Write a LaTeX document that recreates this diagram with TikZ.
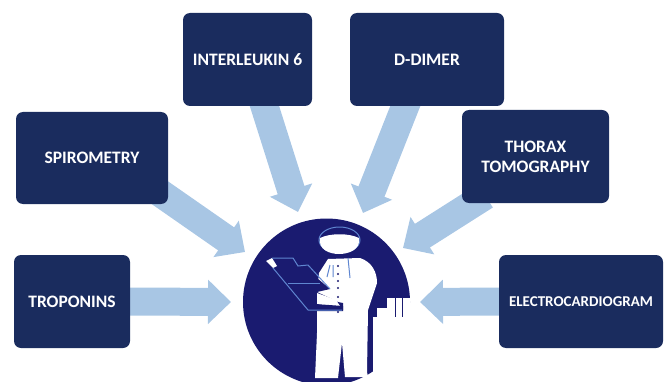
\documentclass[tikz,border=0pt]{standalone}
\usepackage{fontspec}
\setmainfont{Carlito}
\usepackage{xcolor}
\usetikzlibrary{arrows.meta, backgrounds, calc}
\definecolor{boxnavy}{HTML}{1A2C5E}
\definecolor{docnavy}{HTML}{1A1B70}
\definecolor{flowblue}{HTML}{A8C6E4}
\definecolor{lineblue}{HTML}{5F86D0}
\tikzset{testbox/.style={draw=none, fill=boxnavy, rounded corners=7pt, text=white, align=center,
  font=\fontsize{17.5}{20}\selectfont\bfseries, inner sep=0pt},
  flowarrow/.style={draw=flowblue, line width=28pt, shorten <=-14pt,
  -{Triangle[length=23pt, width=43pt]}},
  docline/.style={lineblue, line width=1pt}}

\begin{document}
\begin{tikzpicture}[x=1pt, y=-1pt]
\useasboundingbox (0,0) rectangle (668,382);
\node[testbox, minimum width=129pt, minimum height=93pt] (interleukin) at (247.5,59.5) {INTERLEUKIN 6};
\node[testbox, minimum width=154pt, minimum height=93pt] (ddimer) at (427,59.5) {D-DIMER};
\node[testbox, minimum width=152pt, minimum height=92pt] (spirometry) at (92,158) {SPIROMETRY};
\node[testbox, minimum width=147pt, minimum height=93pt] (thorax) at (535.5,156.5) {THORAX\\TOMOGRAPHY};
\node[testbox, minimum width=116pt, minimum height=93pt] (troponins) at (72,301.5) {TROPONINS};
\node[testbox, minimum width=164pt, minimum height=93pt, font=\fontsize{15}{18}\selectfont\bfseries] (electro) at (581,301.5) {ELECTROCARDIOGRAM};
\node[circle, fill=docnavy, minimum size=167pt, inner sep=0pt] (doctor) at (326.5,302) {};
\coordinate (tipinterleukin) at (298,212);
\coordinate (tipddimer) at (363,213);
\coordinate (tipspirometry) at (245,252);
\coordinate (tipthorax) at (403,248);
\coordinate (tiptroponins) at (231,302);
\coordinate (tipelectro) at (420,302);
\begin{pgfonlayer}{background}
\draw[flowarrow] (interleukin.-70.5) -- (tipinterleukin);
\draw[flowarrow] (ddimer.-115.3) -- (tipddimer);
\draw[flowarrow] (spirometry.-28.8) -- (tipspirometry);
\draw[flowarrow] (thorax.-143.4) -- (tipthorax);
\draw[flowarrow] (troponins.east) -- (tiptroponins);
\draw[flowarrow] (electro.west) -- (tipelectro);
\end{pgfonlayer}
\fill[white] (373,317) -- (373,372) -- (366,378) -- (366,390) -- (420,390) -- (420,317) -- cycle;
\fill[white] (377,317) rectangle (387,308) (387,317) rectangle (410,298);
\draw[docnavy, line width=0.8pt] (395,298) -- (395,317) (402,298) -- (402,317);
\fill[white] (328,259) -- (360,258) .. controls (372,262) and (377,272) .. (377,283)
  -- (368,310) -- (367,372) -- (368,377) -- (345,377) -- (342,343) -- (338,378) -- (315,378)
  -- (317,333) -- (317,293) -- (319,273) -- cycle;
\fill[docnavy] (273,268) -- (298,262) -- (330,289) -- (317,292) -- (338,302) -- (343,303) -- (343,310) -- (308,310) -- cycle;
\fill[white] (317,293) -- (336,300) -- (342,309) -- (317,304) -- cycle;
\fill[docnavy] (315,304) -- (343,306) -- (343,311) -- (315,311) -- cycle;
\fill[white] (266,261) -- (272,258) -- (277,266) -- (273,268) -- cycle;
\draw[docline] (273,268) -- (308,310) -- (342,310);
\draw[docline] (272,258) -- (293,258) -- (298,266) -- (308,265) -- (330,289);
\draw[docline] (288,283) -- (320,283);
\draw[docline] (330,265) -- (327,277) (333,265) -- (333,277) (348,258) -- (350,278);
\foreach \yb in {266,274,281,288,297,312} {
  \fill[docnavy] (338,\yb) circle (1.2pt);
}
\draw[docline, fill=docnavy] (339.5,240) ellipse (20.5pt and 13pt);
\fill[white] (320,238) .. controls (330,233) and (349,233) .. (359,238)
  .. controls (361,250) and (348,254) .. (339,254) .. controls (330,254) and (318,250) .. (320,238) -- cycle;
\end{tikzpicture}
\end{document}
